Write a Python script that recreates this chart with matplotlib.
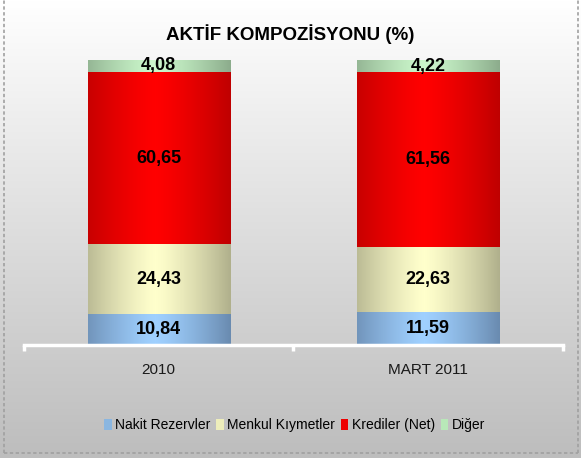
import numpy as np
import matplotlib
matplotlib.use("Agg")
import matplotlib.pyplot as plt
from matplotlib.colors import LinearSegmentedColormap
from matplotlib.patches import Patch
from matplotlib.lines import Line2D

plt.rcParams['font.family'] = ['Liberation Sans', 'DejaVu Sans']

# data
categories = ['2010', 'MART 2011']
series_names = ['Nakit Rezervler', 'Menkul Kıymetler', 'Krediler (Net)', 'Diğer']
nakit = [10.84, 11.59]
menkul = [24.43, 22.63]
krediler = [60.65, 61.56]
diger = [4.08, 4.22]
series_values = [nakit, menkul, krediler, diger]

# (edge colour, centre colour) for the cylinder-ish shading
shades = [('#6a8bb0', '#9fd0ff'),
          ('#b0b08c', '#ffffcc'),
          ('#bf0000', '#ff0000'),
          ('#8cac8c', '#cbf7cb')]

fig = plt.figure(figsize=(5.81, 4.58), dpi=100)

# background: vertical white -> grey gradient
bg = fig.add_axes([0, 0, 1, 1], zorder=-10)
grad = np.linspace(1, 0, 256).reshape(-1, 1)
bg_cmap = LinearSegmentedColormap.from_list('bg', ['#bdbdbd', '#ffffff'])
bg.imshow(grad, aspect='auto', cmap=bg_cmap, extent=[0, 1, 0, 1], origin='upper',
          vmin=0, vmax=1)
bg.set_axis_off()

# dashed frame (left, bottom, right)
frame_style = dict(color='#a0a0a0', lw=1.2, ls=(0, (2, 1.5)))
fig.add_artist(Line2D([0.007, 0.007], [0.011, 0.999], **frame_style))
fig.add_artist(Line2D([0.007, 0.995], [0.011, 0.011], **frame_style))
fig.add_artist(Line2D([0.995, 0.995], [0.011, 0.999], **frame_style))

ax = fig.add_axes([0.0413, 0.2467, 0.9277, 0.6223])
ax.patch.set_alpha(0)

x = np.arange(len(categories))
width = 0.527
bottom = np.zeros(len(categories))

xs = np.linspace(0, 1, 200)
prof = np.abs(xs - 0.47) / 0.53
prof = np.clip(prof, 0, 1) ** 1.3

for vals, (edge, centre), name in zip(series_values, shades, series_names):
    bars = ax.bar(x, vals, width, bottom=bottom, color='none', edgecolor='none')
    cmap = LinearSegmentedColormap.from_list(name, [centre, edge])
    for rect, v in zip(bars, vals):
        x0, y0 = rect.get_x(), rect.get_y()
        w, h = rect.get_width(), rect.get_height()
        im = ax.imshow(prof.reshape(1, -1), cmap=cmap, vmin=0, vmax=1, aspect='auto',
                       extent=[x0, x0 + w, y0, y0 + h], zorder=2, interpolation='bilinear')
        im.set_clip_path(rect)
        ax.text(x0 + w / 2, y0 + h / 2, f'{v:.2f}'.replace('.', ','),
                ha='center', va='center', fontsize=13, fontweight='bold',
                color='black', zorder=5)
    bottom = bottom + np.array(vals)

ax.set_xlim(-0.5, len(categories) - 0.5)
ax.set_ylim(0, 100)
ax.set_yticks([])
for s in ['top', 'right', 'left']:
    ax.spines[s].set_visible(False)
ax.spines['bottom'].set_color('white')
ax.spines['bottom'].set_linewidth(2.5)
ax.spines['bottom'].set_zorder(6)

ax.set_xticks(x)
ax.set_xticklabels(categories, fontsize=11, color='#1a1a1a')
ax.tick_params(axis='x', which='major', length=0, pad=13)
ax.set_xticks(np.arange(-0.5, len(categories)), minor=True)
ax.tick_params(axis='x', which='minor', length=4, width=2.5, color='white', direction='out')

fig.text(0.5, 0.926, 'AKTİF KOMPOZİSYONU (%)', ha='center', va='center',
         fontsize=13.5, fontweight='bold', color='black')

handles = [Patch(facecolor=c, edgecolor='none') for c in
           ['#8ab6e0', '#eeeebb', '#ee0000', '#b8e8b8']]
fig.legend(handles, series_names, loc='center', bbox_to_anchor=(0.507, 0.071), ncol=4,
           frameon=False, fontsize=10, handlelength=0.55, handleheight=0.9,
           handletextpad=0.25, columnspacing=0.4)

fig.savefig('out.png', dpi=100)
